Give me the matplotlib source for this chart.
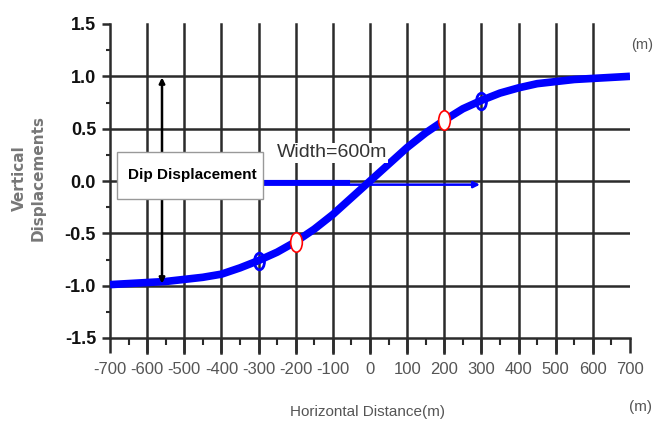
import matplotlib
matplotlib.use("Agg")
import matplotlib.pyplot as plt
from matplotlib.path import Path
from matplotlib.transforms import Affine2D
from matplotlib import font_manager

# fault-scarp profile, vertical displacement vs horizontal distance
x_dist = [-700, -650, -600, -550, -500, -450, -400, -350, -300, -250, -200, -150, -100, -50,
          0, 50, 100, 150, 200, 250, 300, 350, 400, 450, 500, 550, 600, 650, 700]
vert_disp = [-0.99, -0.98, -0.97, -0.96, -0.94, -0.92, -0.89, -0.83, -0.76, -0.68, -0.58, -0.46, -0.32, -0.16,
             0.0, 0.16, 0.32, 0.46, 0.58, 0.69, 0.77, 0.84, 0.89, 0.93, 0.95, 0.97, 0.98, 0.99, 1.0]

half_width_x = [-200, 200]
half_width_y = [-0.58, 0.58]
quarter_x = [-300, 300]
quarter_y = [-0.76, 0.76]

x_ticks = list(range(-700, 701, 100))
y_ticks = [-1.5, -1.0, -0.5, 0.0, 0.5, 1.0, 1.5]
y_ticklabels = ["-1.5", "-1.0", "-0.5", "0.0", "0.5", "1.0", "1.5"]

names = {f.name for f in font_manager.fontManager.ttflist}
narrow = "Liberation Sans Narrow" if "Liberation Sans Narrow" in names else "Liberation Sans"

fig = plt.figure(figsize=(6.57, 4.34), dpi=100)
ax = fig.add_axes([110 / 657, 1 - 338 / 434, 520 / 657, 314 / 434])
ax.set_xlim(-700, 700)
ax.set_ylim(-1.5, 1.5)

grid_c = "#2b2b2b"
for xv in x_ticks[1:-1]:
    ax.axvline(xv, color=grid_c, lw=1.8, zorder=1, clip_on=False, ymin=-15 / 314, ymax=1)
for yv in y_ticks[1:-1]:
    ax.axhline(yv, color=grid_c, lw=1.8, zorder=1)

for s in ["top", "right"]:
    ax.spines[s].set_visible(False)
for s in ["left", "bottom"]:
    ax.spines[s].set_color(grid_c)
    ax.spines[s].set_linewidth(1.8)

ax.set_xticks(x_ticks)
ax.set_xticks(range(-650, 700, 100), minor=True)
ax.set_yticks(y_ticks)
ax.set_yticks([-1.25, -0.75, -0.25, 0.25, 0.75, 1.25], minor=True)
ax.tick_params(axis="x", which="major", length=11, width=1.8, color=grid_c, pad=6)
ax.tick_params(axis="x", which="minor", length=5, width=1.5, color=grid_c)
ax.tick_params(axis="y", which="major", length=6, width=1.8, color=grid_c, pad=4)
ax.tick_params(axis="y", which="minor", length=3, width=1.5, color=grid_c)
ax.set_xticklabels([str(v) for v in x_ticks], family=narrow, fontsize=12, color="#555555")
ax.set_yticklabels(y_ticklabels, family=narrow, fontsize=13, fontweight="bold", color="#111111")

# profile curve and reference points
ax.plot(x_dist, vert_disp, color="#0000ff", lw=5.5, solid_capstyle="butt", zorder=3)
ellipse = Path.unit_circle().transformed(Affine2D().scale(0.6, 1.0))
ax.plot(half_width_x, half_width_y, ls="none", marker=ellipse, ms=14,
        mfc="white", mec="red", mew=1.2, zorder=4)
ax.plot(quarter_x, quarter_y, ls="none", marker=ellipse, ms=12,
        mfc="none", mec="#0000ff", mew=2, zorder=4)

# dip displacement arrow
ax.annotate("", xy=(-560, 0.99), xytext=(-560, -0.98),
            arrowprops=dict(arrowstyle="<|-|>", color="black", lw=1.8,
                            mutation_scale=8, shrinkA=0, shrinkB=0), zorder=5)
ax.add_patch(plt.Rectangle((-680, -0.17), 392, 0.45, facecolor="white",
                           edgecolor="#999999", lw=1, zorder=6))
ax.text(-652, 0.06, "Dip Displacement", family=narrow, fontsize=11, fontweight="bold",
        color="black", va="center", ha="left", zorder=7)

# width arrow
ax.plot([-288, -60], [-0.01, -0.01], color="#0000ff", lw=3, zorder=3)
ax.annotate("", xy=(296, -0.035), xytext=(-288, -0.035),
            arrowprops=dict(arrowstyle="-|>", color="#0000ff", lw=1.8,
                            mutation_scale=9, shrinkA=0, shrinkB=0), zorder=3)
ax.text(-103, 0.27, "Width=600m", family=narrow, fontsize=14, color="#333333",
        ha="center", va="center", zorder=6,
        bbox=dict(facecolor="white", edgecolor="none", pad=1))

fig.text(367 / 657, 1 - 412 / 434, "Horizontal Distance(m)", family=narrow, fontsize=11,
         color="#555555", ha="center", va="center")
fig.text(640 / 657, 1 - 407 / 434, "(m)", family=narrow, fontsize=11,
         color="#555555", ha="center", va="center")
fig.text(642 / 657, 1 - 45 / 434, "(m)", family=narrow, fontsize=10.5,
         color="#555555", ha="center", va="center")
fig.text(19 / 657, 1 - 178 / 434, "Vertical", fontsize=11, fontweight="bold",
         color="#777777", rotation=90, ha="center", va="center")
fig.text(38 / 657, 1 - 178 / 434, "Displacements", fontsize=11, fontweight="bold",
         color="#777777", rotation=90, ha="center", va="center")

fig.savefig("out.png", dpi=100)
